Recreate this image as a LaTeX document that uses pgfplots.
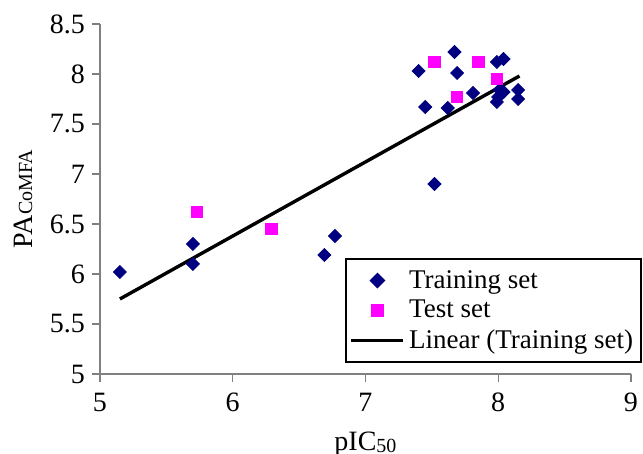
\documentclass[border=0pt]{standalone}
\usepackage{fontspec}
\setmainfont{Liberation Serif}
\usepackage{pgfplots}
\pgfplotsset{compat=1.18}
\usetikzlibrary{calc}
\definecolor{trainc}{HTML}{000080}
\definecolor{testc}{HTML}{FF00FF}

\begin{document}
\begin{tikzpicture}
\begin{axis}[
  scale only axis,
  width=265.5pt, height=175pt,
  xmin=5, xmax=9, ymin=5, ymax=8.5,
  xtick={5,6,7,8,9},
  ytick={5,5.5,...,8.5},
  axis lines=left,
  axis line style={-, draw=gray, line width=0.6pt},
  tick style={draw=gray, line width=0.6pt},
  tick align=outside,
  major tick length=4pt,
  /pgf/number format/assume math mode=true,
  tick label style={font=\fontsize{14}{16}\selectfont},
  xticklabel style={yshift=-2pt},
  xlabel={pIC\raisebox{-1pt}{\fontsize{10}{11}\selectfont 50}},
  ylabel={PA\raisebox{0pt}{\fontsize{10}{11}\selectfont CoMFA}},
  label style={font=\fontsize{14}{16}\selectfont},
  xlabel style={at={(ticklabel cs:0.5)}, anchor=north, yshift=-3pt},
  ylabel style={at={(ticklabel cs:0.5)}, anchor=south, yshift=2pt},
  legend style={at={(0.461,0.331)}, anchor=north west,
    draw=black, line width=1pt,
    font=\fontsize{13.5}{15}\selectfont,
    cells={anchor=west}, inner xsep=2pt, inner ysep=3.5pt,
    row sep=0.5pt},
  legend image code/.code={\draw[mark repeat=2,mark phase=2,#1]
    plot coordinates {(0pt,0pt)(13pt,0pt)(26pt,0pt)};},
  clip=false,
]
\coordinate (BL) at (rel axis cs:0,0);
\addplot[only marks, mark=square*, mark size=2.3pt, color=trainc,
  mark options={rotate=45, fill=trainc}]
  coordinates {
  (7.40,8.03)(7.67,8.22)(7.69,8.01)(7.45,7.67)(7.62,7.66)
  (7.81,7.81)(7.99,8.12)(8.04,8.15)(8.01,7.84)(8.04,7.82)
  (7.99,7.72)(8.00,7.77)(8.15,7.84)(8.15,7.75)(7.52,6.90)
  (5.15,6.02)(5.70,6.30)(5.70,6.10)(6.69,6.19)(6.77,6.38)
  };
\addlegendentry{Training set}
\addplot[only marks, mark=square*, mark size=2.9pt, color=testc,
  mark options={fill=testc}]
  coordinates {
  (7.52,8.12)(7.85,8.12)(7.99,7.95)(7.69,7.77)(5.73,6.62)(6.29,6.45)
  };
\addlegendentry{Test set}
\addplot[black, line width=1.7pt, mark=none]
  coordinates {(5.15,5.75)(8.16,7.98)};
\addlegendentry{Linear (Training set)}
\end{axis}
\pgfresetboundingbox
\path[use as bounding box] ($(BL)+(-50pt,-40pt)$) rectangle ($(BL)+(271.5pt,187pt)$);
\end{tikzpicture}
\end{document}
